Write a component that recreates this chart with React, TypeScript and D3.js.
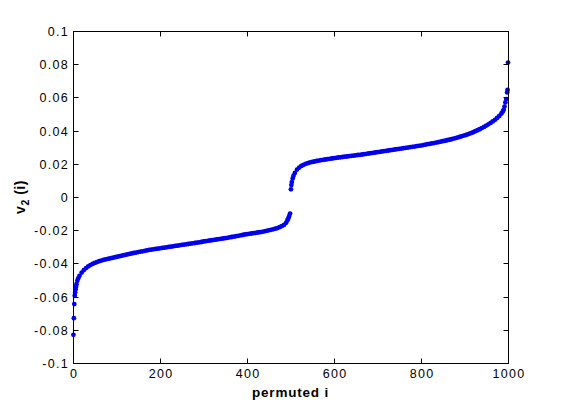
import React from "react";
import * as d3 from "d3";

// permuted index i and the value v2(i)
const permIndex: number[] = [
  1, 2, 3, 4, 5, 6, 7, 8, 10, 12, 15, 20, 25, 30, 35, 40, 45, 50, 55, 60, 65, 70, 75, 80, 85, 90, 95,
  100, 105, 110, 115, 120, 125, 130, 135, 140, 145, 150, 155, 160, 165, 170, 175, 180, 185, 190, 195,
  200, 205, 210, 215, 220, 225, 230, 235, 240, 245, 250, 255, 260, 265, 270, 275, 280, 285, 290, 295,
  300, 305, 310, 315, 320, 325, 330, 335, 340, 345, 350, 355, 360, 365, 370, 375, 380, 385, 390, 395,
  400, 405, 410, 415, 420, 425, 430, 435, 440, 445, 450, 455, 460, 465, 470, 475, 480, 485, 490, 493,
  495, 497, 499,
  501, 502, 503, 505, 507, 510, 515, 520, 525, 530, 535, 540, 545, 550, 555, 560, 565, 570, 575, 580,
  585, 590, 595, 600, 605, 610, 615, 620, 625, 630, 635, 640, 645, 650, 655, 660, 665, 670, 675, 680,
  685, 690, 695, 700, 705, 710, 715, 720, 725, 730, 735, 740, 745, 750, 755, 760, 765, 770, 775, 780,
  785, 790, 795, 800, 805, 810, 815, 820, 825, 830, 835, 840, 845, 850, 855, 860, 865, 870, 875, 880,
  885, 890, 895, 900, 905, 910, 915, 920, 925, 930, 935, 940, 945, 950, 955, 960, 965, 970, 975, 980,
  985, 988, 990, 992, 994, 996, 998, 999, 1000,
];

const v2Values: number[] = [
  -0.083, -0.073, -0.0645, -0.0595, -0.0575, -0.0555, -0.054, -0.0525, -0.0505, -0.049, -0.0475,
  -0.0455, -0.044, -0.0428, -0.0418, -0.041, -0.0403, -0.0397, -0.0392, -0.0387, -0.0383, -0.0379,
  -0.0376, -0.0373, -0.037, -0.0367, -0.0364,
  -0.0361, -0.0358, -0.0355, -0.0352, -0.0349, -0.0346, -0.0343, -0.034, -0.0337, -0.0335, -0.0332,
  -0.0329, -0.0327, -0.0324, -0.0322, -0.0319, -0.0317, -0.0315, -0.0313, -0.0311,
  -0.0309, -0.0307, -0.0305, -0.0303, -0.0301, -0.0299, -0.0297, -0.0295, -0.0293, -0.0291, -0.0289,
  -0.0287, -0.0285, -0.0283, -0.0281, -0.0279, -0.0277, -0.0275, -0.0273, -0.0271,
  -0.0268, -0.0266, -0.0264, -0.0262, -0.026, -0.0258, -0.0256, -0.0254, -0.0252, -0.025, -0.0248,
  -0.0246, -0.0243, -0.0241, -0.0239, -0.0236, -0.0234, -0.0231, -0.0229, -0.0226,
  -0.0224, -0.0222, -0.022, -0.0218, -0.0216, -0.0214, -0.0212, -0.021, -0.0207, -0.0204, -0.0201,
  -0.0198, -0.0195, -0.0191, -0.0187, -0.0182, -0.0176, -0.0168, -0.0155, -0.014,
  -0.0128, -0.0115, -0.01,
  0.0046, 0.0072, 0.009, 0.0112, 0.0128, 0.0145, 0.0165, 0.0177, 0.0187, 0.0194, 0.02, 0.0204, 0.0208,
  0.0211, 0.0214, 0.0217, 0.0219, 0.0222, 0.0224, 0.0226,
  0.0228, 0.023, 0.0232, 0.0234, 0.0236, 0.0238, 0.0239, 0.0241, 0.0243, 0.0244, 0.0246, 0.0248,
  0.0249, 0.0251, 0.0253, 0.0254, 0.0256, 0.0258, 0.026, 0.0262,
  0.0264, 0.0266, 0.0268, 0.027, 0.0272, 0.0274, 0.0276, 0.0278, 0.028, 0.0282, 0.0284, 0.0286,
  0.0288, 0.029, 0.0292, 0.0294, 0.0296, 0.0298, 0.03, 0.0302,
  0.0304, 0.0306, 0.0308, 0.031, 0.0313, 0.0315, 0.0318, 0.032, 0.0323, 0.0325, 0.0328, 0.033,
  0.0333, 0.0336, 0.0339, 0.0342, 0.0345, 0.0348, 0.0352, 0.0355,
  0.0359, 0.0363, 0.0367, 0.0371, 0.0375, 0.038, 0.0385, 0.039, 0.0396, 0.0402, 0.0408, 0.0415,
  0.0422, 0.043, 0.0438, 0.0446, 0.0455, 0.0465, 0.0476, 0.0488,
  0.0503, 0.0515, 0.0525, 0.0545, 0.057, 0.059, 0.063, 0.0645, 0.081,
];

const xTicks: number[] = [0, 200, 400, 600, 800, 1000];
const yTicks: number[] = [-0.1, -0.08, -0.06, -0.04, -0.02, 0, 0.02, 0.04, 0.06, 0.08, 0.1];
const yTickLabels: string[] = ["-0.1", "-0.08", "-0.06", "-0.04", "-0.02", "0", "0.02", "0.04", "0.06", "0.08", "0.1"];

const W = 561;
const H = 408;
const left = 73;
const right = 508;
const top = 31;
const bottom = 363;
const tickLen = 5;
const font = "'Liberation Sans', Arial, sans-serif";

export default function App() {
  const x = d3.scaleLinear().domain([0, 1000]).range([left, right]);
  const y = d3.scaleLinear().domain([-0.1, 0.1]).range([bottom, top]);
  const points = permIndex.map((i, k) => ({ i, v: v2Values[k] }));

  return (
    <svg
      width={W}
      height={H}
      style={{ position: "absolute", left: 0, top: 0, display: "block", background: "#fff" }}
    >
      <rect x={0} y={0} width={W} height={H} fill="#fff" />
      {/* data */}
      <g fill="#0000f0">
        {points.map((p, k) => (
          <circle key={k} cx={x(p.i)} cy={y(p.v)} r={2.4} />
        ))}
      </g>
      {/* box */}
      <rect
        x={left + 0.5}
        y={top + 0.5}
        width={right - left}
        height={bottom - top}
        fill="none"
        stroke="#000"
        strokeWidth={1}
      />
      {/* x ticks */}
      {xTicks.map((t) => {
        const px = Math.round(x(t)) + 0.5;
        return (
          <g key={"x" + t}>
            <line x1={px} x2={px} y1={bottom + 0.5} y2={bottom + 0.5 - tickLen} stroke="#000" />
            <line x1={px} x2={px} y1={top + 0.5} y2={top + 0.5 + tickLen} stroke="#000" />
            <text
              x={px + 0.6}
              y={bottom + 14.5}
              textAnchor="middle"
              fontFamily={font}
              fontSize={12.5}
              letterSpacing={1.3}
              fill="#000"
            >
              {String(t)}
            </text>
          </g>
        );
      })}
      {/* y ticks */}
      {yTicks.map((t, k) => {
        const py = Math.round(y(t)) + 0.5;
        return (
          <g key={"y" + k}>
            <line x1={left + 0.5} x2={left + 0.5 + tickLen} y1={py} y2={py} stroke="#000" />
            <line x1={right + 0.5} x2={right + 0.5 - tickLen} y1={py} y2={py} stroke="#000" />
            <text
              x={left - 4}
              y={py + 4.3}
              textAnchor="end"
              fontFamily={font}
              fontSize={12.5}
              letterSpacing={1.3}
              fill="#000"
            >
              {yTickLabels[k]}
            </text>
          </g>
        );
      })}
      {/* x label */}
      <text
        x={(left + right) / 2}
        y={397}
        textAnchor="middle"
        fontFamily={font}
        fontSize={13.5}
        fontWeight="bold"
        letterSpacing={0.8}
        fill="#000"
      >
        permuted i
      </text>
      {/* y label */}
      <text
        transform={`translate(25, ${(top + bottom) / 2}) rotate(-90)`}
        textAnchor="middle"
        fontFamily={font}
        fontSize={14}
        fontWeight="bold"
        letterSpacing={0.5}
        fill="#000"
      >
        v
        <tspan fontSize={10.5} dy={4}>
          2
        </tspan>
        <tspan dy={-4}> (i)</tspan>
      </text>
    </svg>
  );
}
